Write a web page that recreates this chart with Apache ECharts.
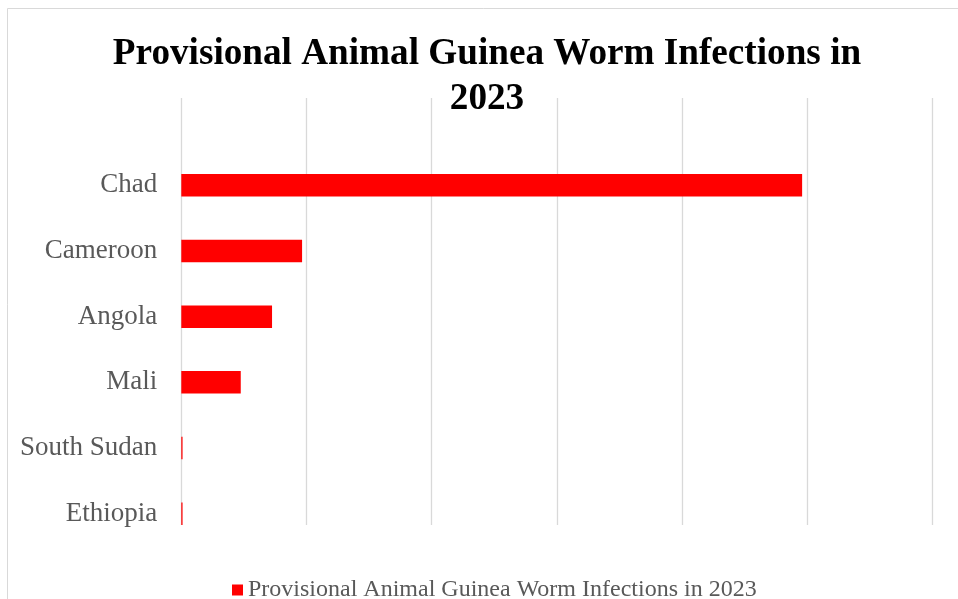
<!DOCTYPE html>
<html>
<head>
<meta charset="utf-8">
<script src="https://cdn.jsdelivr.net/npm/echarts@6/dist/echarts.min.js"></script>
<style>
html,body{margin:0;padding:0;background:#fff;}
#chart{width:958px;height:599px;}
</style>
</head>
<body>
<div id="chart"></div>
<script>
const titleText = "Provisional Animal Guinea Worm Infections in\n2023";
const seriesName = "Provisional Animal Guinea Worm Infections in 2023";
const categories = ["Chad", "Cameroon", "Angola", "Mali", "South Sudan", "Ethiopia"];
const values = [992, 193, 145, 95, 2, 2];
const axisMin = 0;
const axisMax = 1200;
const axisInterval = 200;

const serif = "'Liberation Serif', 'Times New Roman', serif";
const chart = echarts.init(document.getElementById('chart'));
chart.setOption({
  animation: false,
  backgroundColor: '#ffffff',
  graphic: [{
    type: 'rect',
    shape: { x: 7.5, y: 8.5, width: 1000, height: 1000 },
    style: { fill: 'none', stroke: '#d9d9d9', lineWidth: 1 },
    silent: true
  }],
  title: {
    text: titleText,
    left: 482,
    top: 27,
    textAlign: 'center',
    textStyle: {
      fontFamily: serif,
      fontWeight: 'bold',
      fontSize: 37.2,
      lineHeight: 45,
      color: '#000000'
    }
  },
  legend: {
    data: [seriesName],
    top: 573,
    left: 227,
    padding: 5,
    icon: 'rect',
    itemWidth: 11,
    itemHeight: 11,
    itemGap: 6,
    textStyle: { fontFamily: serif, fontSize: 24, color: '#595959' }
  },
  grid: [
    { left: 181.3, right: 25.7, top: 98, bottom: 74 },
    { left: 181.3, right: 25.7, top: 152.35, bottom: 52.35 }
  ],
  xAxis: [
    {
      gridIndex: 0, type: 'value', min: axisMin, max: axisMax, interval: axisInterval,
      axisLine: { show: false }, axisTick: { show: false }, axisLabel: { show: false },
      splitLine: { show: true, lineStyle: { color: '#d9d9d9', width: 1.3 } }
    },
    {
      gridIndex: 1, type: 'value', min: axisMin, max: axisMax, interval: axisInterval,
      axisLine: { show: false }, axisTick: { show: false }, axisLabel: { show: false },
      splitLine: { show: false }
    }
  ],
  yAxis: [
    { gridIndex: 0, type: 'value', show: false },
    {
      gridIndex: 1, type: 'category', data: categories, inverse: true,
      axisLine: { show: false }, axisTick: { show: false },
      axisLabel: { margin: 24, fontFamily: serif, fontSize: 27, color: '#595959', padding: [0, 0, 7, 0] }
    }
  ],
  series: [{
    name: seriesName,
    type: 'bar',
    xAxisIndex: 1,
    yAxisIndex: 1,
    data: values,
    barWidth: 22.5,
    itemStyle: { color: '#ff0000' }
  }]
});
</script>
</body>
</html>
